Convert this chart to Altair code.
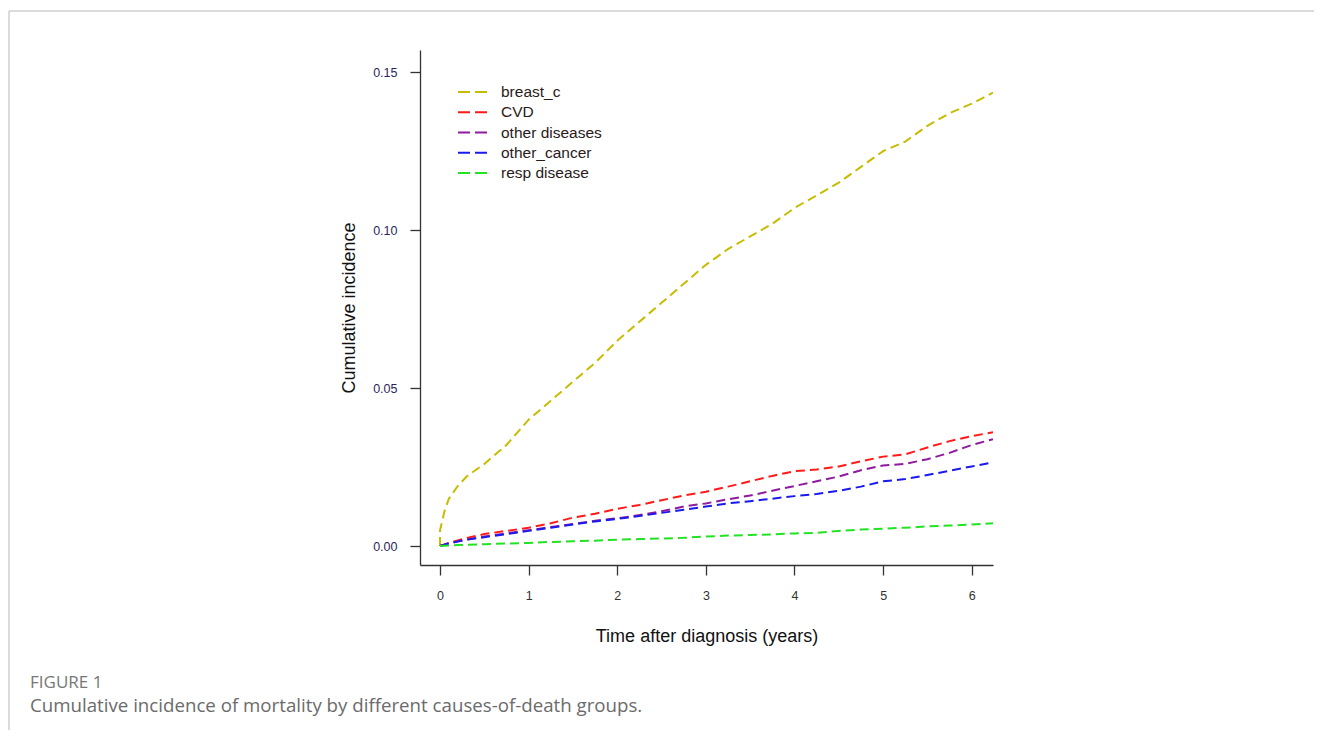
import altair as alt
import pandas as pd

# ---- data ----
causes = ["breast_c", "CVD", "other diseases", "other_cancer", "resp disease"]
colors = ["#c8bc00", "#ff1a1a", "#8e1a9e", "#1a1aee", "#22e322"]

times = [0, 0.05, 0.1, 0.2, 0.3, 0.5, 0.75, 1.0, 1.25, 1.5, 1.75, 2.0, 2.25, 2.5,
         2.75, 3.0, 3.25, 3.5, 3.75, 4.0, 4.25, 4.5, 4.75, 5.0, 5.25, 5.5, 5.75,
         6.0, 6.24]

breast_t = [0] + times
breast_c = [0.0, 0.005, 0.011, 0.015, 0.019, 0.022, 0.026, 0.032, 0.040, 0.046,
            0.052, 0.058, 0.065, 0.071, 0.077, 0.083, 0.089, 0.094, 0.098, 0.102,
            0.107, 0.111, 0.115, 0.120, 0.125, 0.128, 0.133, 0.137, 0.140, 0.1435]
cvd = [0, 0.0005, 0.001, 0.0018, 0.0025, 0.0038, 0.0048, 0.0058, 0.0072, 0.009,
       0.0102, 0.0118, 0.013, 0.0145, 0.016, 0.0172, 0.0188, 0.0205, 0.0222,
       0.0237, 0.0242, 0.0252, 0.0268, 0.0283, 0.029, 0.0312, 0.0332, 0.0348, 0.036]
other_dis = [0, 0.0004, 0.0008, 0.0015, 0.002, 0.003, 0.004, 0.005, 0.006, 0.007,
             0.008, 0.0088, 0.0098, 0.011, 0.0125, 0.0135, 0.0148, 0.016, 0.0175,
             0.019, 0.0205, 0.022, 0.024, 0.0255, 0.026, 0.0275, 0.0295, 0.032, 0.0338]
other_cancer = [0, 0.0004, 0.0008, 0.0014, 0.002, 0.0028, 0.0038, 0.0048, 0.0058,
                0.0068, 0.0078, 0.0086, 0.0095, 0.0105, 0.0115, 0.0125, 0.0135,
                0.0142, 0.015, 0.0158, 0.0165, 0.0175, 0.0188, 0.0205, 0.0212,
                0.0225, 0.0238, 0.0252, 0.0265]
resp = [0, 0.0001, 0.0002, 0.0003, 0.0004, 0.0006, 0.0008, 0.001, 0.0013, 0.0015,
        0.0017, 0.002, 0.0022, 0.0024, 0.0026, 0.003, 0.0033, 0.0035, 0.0037, 0.004,
        0.0042, 0.0048, 0.0052, 0.0055, 0.0058, 0.0062, 0.0065, 0.0068, 0.0072]

x_ticks = [0, 1, 2, 3, 4, 5, 6]
y_ticks = [0.0, 0.05, 0.10, 0.15]

caption_head = "FIGURE 1"
caption_text = "Cumulative incidence of mortality by different causes-of-death groups."

# ---- build table ----
rows = []
series = [(causes[0], breast_t, breast_c), (causes[1], times, cvd),
          (causes[2], times, other_dis), (causes[3], times, other_cancer),
          (causes[4], times, resp)]
for name, ts, vs in series:
    for i, (t, v) in enumerate(zip(ts, vs)):
        rows.append({"cause": name, "t": t, "v": v, "i": i})
df = pd.DataFrame(rows)
legend_df = pd.DataFrame({"cause": causes})

W, H = 573, 515
color_scale = alt.Scale(domain=causes, range=colors)

lines = alt.Chart(df).mark_line(strokeWidth=2, strokeDash=[9, 5], clip=True).encode(
    x=alt.X("t:Q",
            scale=alt.Scale(domain=[-0.226, 6.24], nice=False, zero=False),
            axis=alt.Axis(values=x_ticks, format="d", grid=False,
                          title="Time after diagnosis (years)",
                          titleFontSize=18, titleFont="Liberation Sans",
                          titleFontWeight="normal", titleColor="#111",
                          titlePadding=26,
                          labelFont="Liberation Sans", labelFontSize=12.5,
                          labelColor="#333", labelPadding=14,
                          tickSize=10, tickColor="#333", tickWidth=1.3,
                          domainColor="#333", domainWidth=1.3)),
    y=alt.Y("v:Q",
            scale=alt.Scale(domain=[-0.006, 0.157], nice=False, zero=False),
            axis=alt.Axis(values=y_ticks, format=".2f", grid=False,
                          title="Cumulative incidence",
                          titleFontSize=18, titleFont="Liberation Sans",
                          titleFontWeight="normal", titleColor="#111",
                          titlePadding=14,
                          labelFont="Liberation Sans", labelFontSize=12.5,
                          labelColor="#2b1f5c", labelPadding=13,
                          tickSize=10, tickColor="#333", tickWidth=1.3,
                          domainColor="#333", domainWidth=1.3)),
    color=alt.Color("cause:N", scale=color_scale, legend=None),
    order=alt.Order("i:Q"),
)

# legend drawn inside the plot (top-left), rows placed by a point scale
leg_y = alt.Y("cause:N", scale=alt.Scale(type="point", domain=causes,
                                         range=[42, 123], padding=0), axis=None)
leg_lines = alt.Chart(legend_df).mark_rule(strokeWidth=2, strokeDash=[12, 5]).encode(
    x=alt.value(38), x2=alt.value(67), y=leg_y,
    color=alt.Color("cause:N", scale=color_scale, legend=None))
leg_text = alt.Chart(legend_df).mark_text(
    align="left", baseline="middle", font="Liberation Sans", fontSize=15.5,
    color="#2a1a1a").encode(x=alt.value(81), y=leg_y, text="cause:N")
legend = alt.layer(leg_lines, leg_text)

one = pd.DataFrame({"a": [0]})
frame_top = alt.Chart(one).mark_rule(color="#cfcfcf", strokeWidth=1.5).encode(
    x=alt.value(-411), x2=alt.value(902), y=alt.value(-39))
frame_left = alt.Chart(one).mark_rule(color="#cfcfcf", strokeWidth=1.5).encode(
    x=alt.value(-411), y=alt.value(-39), y2=alt.value(688))
cap1 = alt.Chart(one).mark_text(align="left", baseline="middle", font="Open Sans",
                                fontSize=17, color="#777777").encode(
    x=alt.value(-390), y=alt.value(633), text=alt.value(caption_head))
cap2 = alt.Chart(one).mark_text(align="left", baseline="middle", font="Open Sans",
                                fontSize=18.7, color="#6b6b6b").encode(
    x=alt.value(-390), y=alt.value(656), text=alt.value(caption_text))

chart = alt.layer(frame_top, frame_left, lines, legend, cap1, cap2).resolve_scale(
    y="independent"
).properties(
    width=W, height=H,
    padding={"left": 412, "top": 42, "right": 321, "bottom": 165},
    autosize=alt.AutoSizeParams(type="none"),
    background="white",
).configure_view(stroke=None)

chart.save("out.html", embed_options={"renderer": "svg", "actions": False})
